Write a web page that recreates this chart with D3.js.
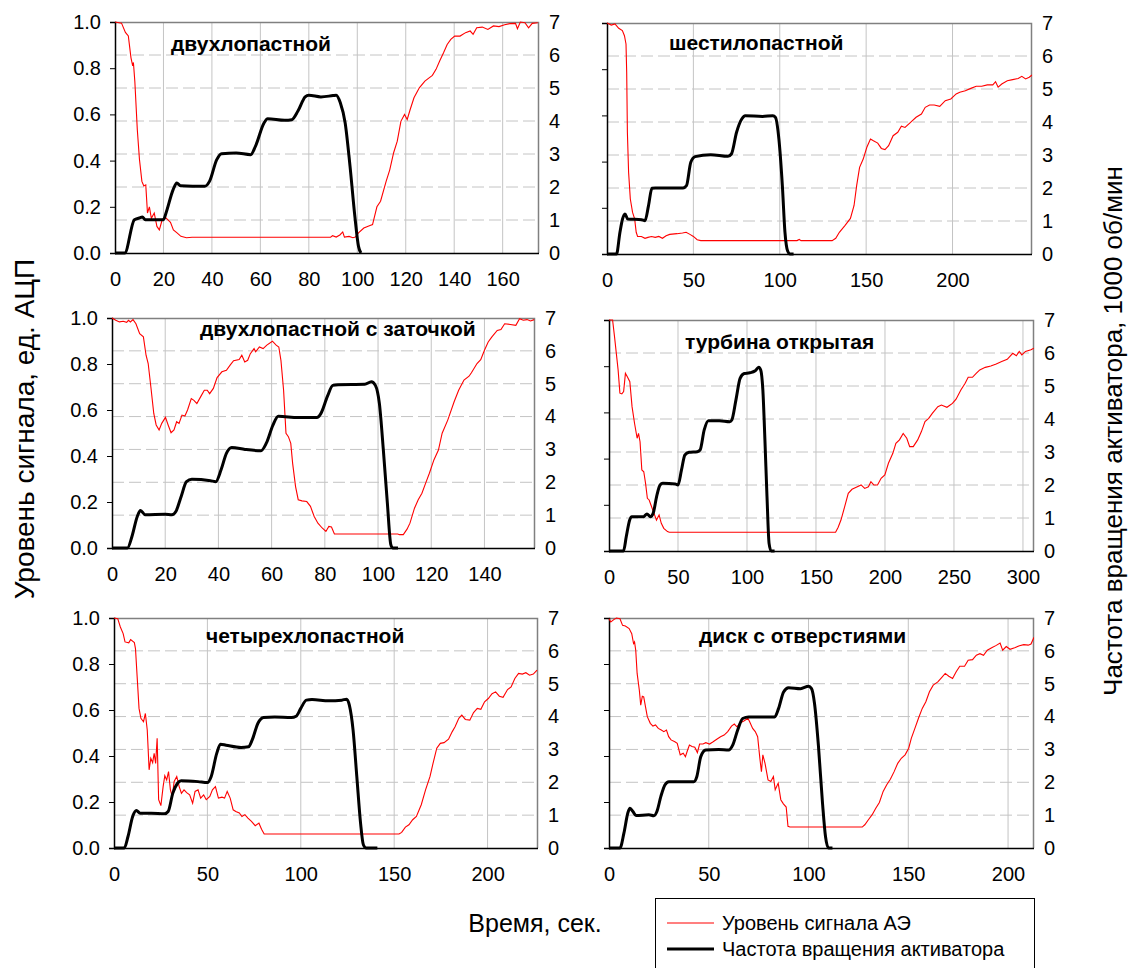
<!DOCTYPE html>
<html>
<head>
<meta charset="utf-8">
<script src="https://cdn.jsdelivr.net/npm/d3@7"></script>
<style>
  body { margin: 0; background: #fff; }
  svg { font-family: "Liberation Sans", Arial, sans-serif; }
</style>
</head>
<body>
<svg id="chart" width="1131" height="968"></svg>
<script>
// названия панелей и оси времени
var titles = ["двухлопастной", "шестилопастной", "двухлопастной с заточкой",
              "турбина открытая", "четырехлопастной", "диск с отверстиями"];
var xMax = [175, 246, 159, 308, 227, 213];
var xTicks = [
  [0, 20, 40, 60, 80, 100, 120, 140, 160],
  [0, 50, 100, 150, 200],
  [0, 20, 40, 60, 80, 100, 120, 140],
  [0, 50, 100, 150, 200, 250, 300],
  [0, 50, 100, 150, 200],
  [0, 50, 100, 150, 200]
];
var signalTicks = [0, 0.2, 0.4, 0.6, 0.8, 1.0];
var speedTicks = [0, 1, 2, 3, 4, 5, 6, 7];

// уровень сигнала АЭ, [сек, ед. АЦП]
var signal1 = [[0,1.0],[2.7,0.995],[4.3,0.955],[5.5,0.94],[6.6,0.845],[7.3,0.81],[7.6,0.825],[8.2,0.74],[9.2,0.535],[10.1,0.405],[11.1,0.31],[11.9,0.29],[12.7,0.295],[13.4,0.173],[14.2,0.2],[15,0.15],[16.2,0.173],[17.3,0.115],[18.3,0.1],[19.5,0.145],[21,0.152],[22.9,0.133],[24.1,0.1],[25.6,0.087],[27.2,0.072],[29.5,0.066],[31.8,0.068],[89,0.068],[89.8,0.075],[91.3,0.069],[92.8,0.078],[94,0.091],[94.7,0.069],[96.6,0.072],[98.2,0.066],[99.2,0.069],[100.5,0.087],[102.7,0.108],[105,0.118],[106.3,0.123],[108.1,0.2],[109.6,0.224],[111.9,0.31],[113.4,0.36],[115,0.434],[116.5,0.484],[118,0.57],[119.5,0.6],[120.6,0.578],[121.8,0.62],[123.4,0.672],[125.6,0.715],[127.9,0.744],[129.5,0.757],[131,0.769],[132.5,0.795],[134,0.831],[135.6,0.867],[137.1,0.903],[138.6,0.925],[140.2,0.939],[142.4,0.939],[144.7,0.954],[146.6,0.961],[147.8,0.947],[149.3,0.975],[151.6,0.978],[153.9,0.968],[156.2,0.983],[158.5,0.98],[160.8,0.988],[163,0.993],[165.3,0.994],[166.1,0.971],[167.3,1.0],[169.2,0.997],[170.7,0.975],[172.2,0.994],[174.5,0.997]];
var signal2 = [[0,1.0],[2.5,0.991],[4.6,0.996],[6.8,0.977],[8.9,0.967],[10.1,0.945],[11,0.909],[11.4,0.786],[11.8,0.527],[12.5,0.354],[13.5,0.238],[14.8,0.18],[16,0.152],[16.9,0.094],[17.7,0.076],[19.9,0.076],[22,0.068],[23.7,0.072],[25.8,0.076],[27.9,0.072],[30,0.076],[32.1,0.068],[34.2,0.079],[36.3,0.085],[40.5,0.088],[43.7,0.091],[45.8,0.094],[48,0.085],[50,0.076],[52.2,0.062],[54.3,0.058],[110,0.058],[111.3,0.063],[112.3,0.058],[130.3,0.058],[132.4,0.068],[134.5,0.094],[137.7,0.123],[140.9,0.154],[143,0.21],[144.5,0.296],[146.2,0.375],[148.3,0.411],[150.4,0.462],[152.5,0.498],[154.2,0.49],[156.7,0.48],[158.8,0.457],[160.9,0.452],[163,0.469],[165.6,0.512],[168.3,0.527],[170.4,0.553],[172.5,0.548],[175.7,0.57],[178.9,0.592],[182,0.606],[184.2,0.635],[186.7,0.645],[189.4,0.645],[192.6,0.639],[195.8,0.664],[199,0.671],[202.1,0.693],[204.2,0.7],[207.4,0.707],[210.6,0.717],[213.7,0.726],[216.9,0.726],[220.1,0.732],[223.3,0.732],[224.9,0.746],[226.4,0.722],[228.5,0.736],[231.7,0.75],[234.8,0.755],[238,0.76],[240.1,0.769],[242.3,0.758],[244.4,0.765],[246,0.775]];
var signal3 = [[0,1.0],[1.4,0.99],[2.8,0.983],[4.2,0.986],[5.5,0.981],[6.2,0.99],[6.9,0.983],[7.9,0.993],[9,0.975],[10.4,0.932],[11.8,0.918],[12.8,0.838],[13.6,0.802],[14.6,0.701],[15.7,0.585],[16.6,0.535],[17.7,0.513],[18.7,0.542],[20.1,0.568],[21.1,0.535],[22.2,0.501],[23.3,0.513],[24.3,0.549],[25.2,0.542],[26.3,0.578],[27.4,0.574],[28.4,0.6],[29.8,0.65],[30.8,0.642],[31.9,0.628],[33.3,0.657],[34.7,0.686],[35.8,0.686],[36.7,0.671],[38.1,0.694],[39.5,0.741],[41.3,0.766],[43,0.773],[44.4,0.795],[45.7,0.814],[47.8,0.819],[48.8,0.838],[49.9,0.809],[51,0.816],[52,0.845],[53.4,0.867],[54,0.853],[55.4,0.874],[56.8,0.867],[58.2,0.882],[60.3,0.899],[61.7,0.882],[62.7,0.874],[63.5,0.816],[64.5,0.686],[65.4,0.499],[66.3,0.484],[67.2,0.455],[67.9,0.368],[69,0.267],[70,0.21],[71.4,0.205],[73.2,0.202],[74.6,0.181],[76,0.137],[77.4,0.108],[79,0.087],[80.4,0.072],[81.5,0.094],[82.5,0.091],[83.6,0.061],[107.4,0.061],[108.1,0.058],[109.5,0.058],[110.9,0.082],[112,0.108],[113.7,0.173],[115.1,0.21],[116.5,0.238],[117.9,0.282],[119.3,0.325],[121,0.383],[122.7,0.426],[124.1,0.499],[126.2,0.556],[128.6,0.636],[130.3,0.686],[132.3,0.73],[134.2,0.747],[135.1,0.762],[137.2,0.802],[138.6,0.819],[140,0.86],[141.4,0.896],[142.8,0.918],[144.8,0.946],[146.2,0.95],[147.6,0.975],[149.7,0.972],[151.8,0.968],[153.2,0.997],[154.6,0.99],[156,0.993],[157.3,0.987],[158.7,0.993]];
var signal4 = [[0,1.0],[2.6,1.0],[4,0.928],[5.3,0.856],[6.6,0.784],[7.9,0.683],[9.3,0.68],[10.6,0.69],[11.9,0.769],[13.2,0.755],[15.1,0.733],[16.7,0.625],[18.5,0.553],[20.4,0.488],[21.4,0.509],[22.5,0.473],[23.8,0.351],[25.2,0.343],[26.5,0.293],[27.8,0.228],[29.1,0.221],[30.4,0.199],[32.6,0.163],[34.4,0.134],[36.3,0.156],[37.9,0.12],[39.7,0.098],[42.4,0.084],[43.7,0.081],[164.2,0.081],[166,0.102],[168.1,0.134],[170.8,0.192],[173.4,0.25],[176.1,0.267],[179.2,0.276],[182.7,0.286],[185.3,0.271],[188,0.278],[189.8,0.3],[191.9,0.286],[194.6,0.286],[197.2,0.315],[199.9,0.329],[202.5,0.38],[205.7,0.423],[207.9,0.466],[210.5,0.481],[213.2,0.509],[215.8,0.488],[217.9,0.452],[220.5,0.452],[223.7,0.481],[226.4,0.517],[229,0.56],[231.7,0.574],[234.3,0.596],[238.3,0.625],[240.9,0.632],[244.9,0.622],[248.9,0.639],[251.5,0.657],[255,0.697],[258.1,0.726],[260.3,0.752],[263.4,0.752],[266.1,0.769],[268.7,0.784],[272.7,0.795],[276.7,0.801],[280.6,0.81],[284.6,0.82],[288.6,0.83],[292.6,0.856],[295.2,0.845],[297.3,0.864],[299.2,0.849],[301.8,0.864],[305.8,0.871],[307.9,0.878]];
var signal5 = [[0,1.0],[2,0.997],[3.4,0.961],[4.9,0.932],[5.9,0.896],[7.9,0.892],[8.9,0.906],[10.9,0.893],[11.5,0.867],[12.4,0.744],[13.4,0.607],[14.4,0.564],[15.8,0.549],[16.8,0.585],[17.8,0.513],[18.8,0.34],[19.7,0.39],[20.7,0.371],[21.5,0.412],[22.3,0.368],[23.1,0.477],[23.9,0.21],[25.1,0.184],[26.3,0.267],[27.2,0.314],[28.2,0.296],[29.2,0.332],[30.2,0.253],[31.2,0.224],[32.2,0.289],[33.6,0.311],[34.9,0.267],[36.1,0.238],[37.5,0.253],[38.9,0.241],[40.5,0.231],[42.1,0.195],[43.4,0.246],[45,0.253],[46.4,0.217],[48,0.231],[49.4,0.21],[51.3,0.224],[52.7,0.253],[54.3,0.267],[55.9,0.217],[57.8,0.221],[59.2,0.217],[60.6,0.246],[62.2,0.217],[63.8,0.166],[65.2,0.159],[67.1,0.152],[68.5,0.137],[70.1,0.145],[71.7,0.13],[73.6,0.116],[75.6,0.097],[77.6,0.108],[79,0.082],[80.4,0.061],[152.6,0.061],[154,0.068],[156,0.091],[157.9,0.101],[159.9,0.123],[161.9,0.137],[164.5,0.188],[166.8,0.253],[169.2,0.311],[170.8,0.368],[172.8,0.434],[174.7,0.455],[176.7,0.458],[179.1,0.473],[181.1,0.506],[182.6,0.527],[184.6,0.564],[186.2,0.578],[188.1,0.559],[190.5,0.556],[192.5,0.589],[194.5,0.607],[196.4,0.603],[198.4,0.636],[200.4,0.65],[202.4,0.671],[204.3,0.679],[206.3,0.66],[208.3,0.655],[210.7,0.689],[212.6,0.7],[214.6,0.737],[216.6,0.759],[218.6,0.756],[220.5,0.762],[222.5,0.751],[224.5,0.756],[226.5,0.773]];
var signal6 = [[0,0.997],[0.9,0.983],[2.4,0.993],[3.7,1.0],[5.5,0.997],[6.8,0.968],[8.2,0.965],[10.1,0.954],[11.4,0.932],[12.3,0.889],[12.8,0.896],[13.4,0.86],[14.1,0.759],[15.2,0.686],[15.9,0.621],[16.7,0.66],[17.4,0.657],[18.3,0.614],[19.2,0.571],[20.7,0.542],[22,0.53],[23.3,0.535],[24.7,0.52],[26.2,0.513],[27.5,0.506],[28.8,0.513],[29.9,0.484],[31.1,0.47],[33,0.462],[34.2,0.455],[35.7,0.405],[37.2,0.412],[38.3,0.397],[39.4,0.426],[40.3,0.448],[41.6,0.441],[43,0.438],[44.3,0.415],[45.4,0.452],[47.1,0.452],[48.5,0.458],[50.4,0.452],[52.2,0.462],[54,0.473],[55.9,0.484],[57.7,0.491],[59.5,0.506],[61.4,0.53],[62.8,0.539],[64.1,0.527],[65.9,0.545],[67.8,0.553],[69.6,0.564],[70.5,0.549],[72,0.52],[73.3,0.506],[74.5,0.484],[75.6,0.39],[76.4,0.332],[77.1,0.405],[78.2,0.368],[79.7,0.296],[81.1,0.289],[82.4,0.311],[83.3,0.253],[84.8,0.282],[86.1,0.21],[87.4,0.192],[88.8,0.178],[89.7,0.094],[90.7,0.091],[126.9,0.091],[128.2,0.101],[130,0.123],[131.9,0.145],[133.7,0.173],[135.5,0.198],[137.4,0.246],[139.2,0.275],[141,0.299],[142.9,0.332],[144.7,0.368],[146.5,0.39],[148.4,0.405],[150.2,0.434],[151.5,0.477],[153.3,0.52],[155.1,0.564],[157,0.607],[158.8,0.636],[160.6,0.679],[162.5,0.708],[164.8,0.722],[166.7,0.741],[168.5,0.759],[170.3,0.747],[172.2,0.737],[174,0.766],[175.8,0.79],[178.2,0.79],[180,0.816],[182.2,0.819],[184.1,0.838],[185.9,0.845],[187.7,0.838],[189.6,0.86],[191.8,0.871],[194.1,0.881],[196,0.891],[197.3,0.86],[199.1,0.876],[201,0.864],[203.3,0.871],[205.7,0.879],[207.9,0.884],[210.1,0.882],[211.5,0.887],[213,0.916]];

// частота вращения активатора, [сек, 1000 об/мин]
var speed1 = [[0,0],[4,0],[8,1.01],[10,1.06],[11.3,1.09],[12.5,1.01],[20,1.01],[21,1.2],[24,1.92],[25.5,2.12],[27,2.04],[37,2.02],[39,2.17],[42,2.83],[44,3.01],[50,3.03],[56,2.98],[58,3.24],[61.5,3.94],[63,4.07],[70,4.02],[73,4.04],[75.5,4.3],[78.5,4.73],[80,4.78],[85,4.73],[90,4.77],[91.3,4.78],[93,4.55],[95,3.94],[97,2.63],[99,1.11],[100.5,0.2],[101.5,0]];
var speed2 = [[0,0],[5.5,0],[7.5,0.66],[9,1.06],[10.4,1.21],[12,1.06],[20,1.04],[22,1.01],[24,1.46],[26,1.99],[28,2.0],[40,2.0],[44,2.0],[46,2.07],[48.5,2.78],[51,2.95],[60,3.01],[70,2.96],[72,3.03],[75,3.69],[78,4.09],[80,4.19],[90,4.17],[96,4.19],[97.5,4.14],[99.5,3.48],[101.5,2.07],[103,0.66],[104.5,0.1],[106,0],[108,0]];
var speed3 = [[0,0],[5.8,0],[7.5,0.35],[9.5,0.96],[10.7,1.14],[12.5,1.01],[20,1.03],[22.5,1.01],[24,1.11],[26,1.57],[28,2.02],[30,2.09],[37,2.05],[39,2.02],[41,2.38],[43,2.88],[45,3.06],[50,3.0],[56,2.96],[58,3.19],[60.5,3.74],[62.5,4.01],[70,3.97],[77,3.97],[78.5,4.09],[81,4.62],[83,4.95],[85,4.97],[95,4.98],[97.5,5.06],[99,4.95],[100.5,4.4],[102,2.98],[103.5,1.37],[104.8,0.1],[105.5,0],[107.5,0]];
var speed4 = [[0,0],[10.5,0],[12.5,0.43],[15,0.94],[16.5,1.04],[25,1.04],[27.5,1.12],[30,1.04],[32,1.14],[34.5,1.65],[37,2.0],[39,2.05],[48,2.03],[50,2.0],[52.5,2.45],[55,2.91],[58,2.99],[64,3.01],[66,3.06],[69,3.67],[72,3.95],[80,3.95],[87.5,3.92],[89,3.97],[92,4.58],[95,5.23],[98,5.38],[102,5.4],[106,5.46],[108.5,5.57],[110,5.48],[111.5,4.88],[113,3.36],[114.5,1.65],[116,0.23],[117.5,0],[120,0]];
var speed5 = [[0,0],[5.5,0],[7.5,0.35],[10,0.96],[12,1.14],[14,1.06],[20,1.06],[27,1.04],[29,1.11],[31.5,1.67],[34,1.97],[36,2.05],[45,2.02],[50,1.99],[52,2.17],[55,2.88],[57,3.16],[60,3.13],[68,3.06],[72,3.08],[74,3.29],[77,3.79],[80,3.97],[86,3.99],[95,3.97],[97.5,4.01],[100,4.25],[103,4.5],[106,4.52],[115,4.48],[122,4.5],[124.5,4.53],[126,4.35],[128,3.59],[130,2.17],[132,0.76],[133.5,0.1],[135,0],[141,0]];
var speed6 = [[0,0],[5.5,0],[7.5,0.46],[9.5,1.08],[10.5,1.21],[12,1.11],[13.5,0.99],[20,1.01],[22.5,0.98],[24,1.11],[26,1.57],[28,1.92],[30,2.02],[40,2.02],[42.5,2.02],[44,2.17],[46,2.78],[48.5,2.98],[55,3.0],[60,2.98],[62,3.13],[64.5,3.59],[67,3.94],[70,3.99],[80,3.99],[83,3.99],[85,4.25],[87.5,4.75],[90,4.88],[96,4.85],[100,4.92],[101.5,4.85],[103,4.4],[105,3.08],[107,1.37],[108.5,0.35],[110,0],[112,0]];

var signals = [signal1, signal2, signal3, signal4, signal5, signal6];
var speeds = [speed1, speed2, speed3, speed4, speed5, speed6];

// рамки панелей на странице и положение подписей
var boxes = [
  {left: 115, right: 539, top: 22, bottom: 253},
  {left: 607, right: 1032, top: 23, bottom: 254},
  {left: 112, right: 535, top: 318, bottom: 548},
  {left: 609, right: 1034, top: 320, bottom: 551},
  {left: 114, right: 538, top: 618, bottom: 848},
  {left: 609, right: 1034, top: 618, bottom: 848}
];
var titlePos = [[56, 22], [62, 20], [88, 11], [76, 22], [92, 18], [90, 18]];

var svg = d3.select("#chart");

boxes.forEach(function(b, i) {
	var w = b.right - b.left,
	    h = b.bottom - b.top,
	    leftColumn = (i % 2 === 0);

	var g = svg.append("g")
		.attr("transform", "translate(" + b.left + "," + b.top + ")");

	var x = d3.scaleLinear().domain([0, xMax[i]]).range([0, w]);
	var yS = d3.scaleLinear().domain([0, 1]).range([h, 0]);
	var yF = d3.scaleLinear().domain([0, 7]).range([h, 0]);

	// вертикальная сетка
	g.append("g")
		.selectAll("line")
		.data(xTicks[i].filter(function(d) { return d > 0; }))
		.enter().append("line")
		.attr("x1", function(d) { return x(d); })
		.attr("x2", function(d) { return x(d); })
		.attr("y1", 0).attr("y2", h)
		.attr("stroke", "#c4c4c4")
		.attr("stroke-width", 1);

	// горизонтальная сетка, штрих
	g.append("g")
		.selectAll("line")
		.data(speedTicks.filter(function(d) { return d > 0 && d < 7; }))
		.enter().append("line")
		.attr("x1", 0).attr("x2", w)
		.attr("y1", function(d) { return yF(d); })
		.attr("y2", function(d) { return yF(d); })
		.attr("stroke", "#c4c4c4")
		.attr("stroke-width", 1)
		.attr("stroke-dasharray", "12,5");

	// верх и правая сторона рамки
	g.append("path")
		.attr("d", "M0,0.5H" + (w - 0.5) + "V" + h)
		.attr("fill", "none")
		.attr("stroke", "#808080")
		.attr("stroke-width", 1.5);

	var clipId = "clip" + i;
	g.append("clipPath").attr("id", clipId)
		.append("rect")
		.attr("x", -3).attr("y", -2)
		.attr("width", w + 3).attr("height", h + 4);

	var lineSignal = d3.line()
		.x(function(d) { return x(d[0]); })
		.y(function(d) { return yS(d[1]); });

	var lineSpeed = d3.line()
		.curve(d3.curveMonotoneX)
		.x(function(d) { return x(d[0]); })
		.y(function(d) { return yF(d[1]); });

	// оси
	var xAxis = d3.axisBottom(x).tickValues(xTicks[i]).tickSize(0).tickPadding(19)
		.tickFormat(d3.format("d"));
	var gx = g.append("g")
		.attr("transform", "translate(0," + h + ")")
		.call(xAxis);

	// у правых панелей левая шкала без подписей
	var gl = g.append("g").call(d3.axisLeft(yS).tickValues(signalTicks)
		.tickSize(5).tickPadding(9)
		.tickFormat(leftColumn ? d3.format(".1f") : function() { return ""; }));

	var gr = g.append("g")
		.attr("transform", "translate(" + w + ",0)")
		.call(d3.axisRight(yF).tickValues(speedTicks).tickSize(0).tickPadding(10)
			.tickFormat(d3.format("d")));
	gr.select(".domain").remove();

	[gx, gl, gr].forEach(function(a) {
		a.selectAll("text")
			.style("font-size", "20px")
			.style("font-family", "'Liberation Sans', Arial, sans-serif")
			.attr("fill", "#000");
		a.selectAll(".tick line").attr("stroke", "#000");
		a.select(".domain").attr("stroke", "#000").attr("stroke-width", 1.5);
	});
	gx.select(".domain").attr("d", "M0,0.5H" + w);

	g.append("path")
		.attr("clip-path", "url(#" + clipId + ")")
		.attr("d", lineSignal(signals[i]))
		.attr("fill", "none")
		.attr("stroke", "#ff0000")
		.attr("stroke-width", 1.1);

	g.append("path")
		.attr("clip-path", "url(#" + clipId + ")")
		.attr("d", lineSpeed(speeds[i]))
		.attr("fill", "none")
		.attr("stroke", "#000")
		.attr("stroke-width", 3)
		.attr("stroke-linejoin", "round");

	g.append("text")
		.attr("x", titlePos[i][0])
		.attr("y", titlePos[i][1])
		.attr("dy", "0.35em")
		.style("font-size", "21px")
		.style("font-weight", "bold")
		.text(titles[i]);
});

// подписи осей
svg.append("text")
	.attr("transform", "translate(34,429) rotate(-90)")
	.style("text-anchor", "middle")
	.style("font-size", "28px")
	.text("Уровень сигнала, ед. АЦП");

svg.append("text")
	.attr("transform", "translate(1122,431) rotate(-90)")
	.style("text-anchor", "middle")
	.style("font-size", "26px")
	.text("Частота вращения активатора, 1000 об/мин");

svg.append("text")
	.attr("x", 535).attr("y", 923)
	.attr("dy", "0.35em")
	.style("text-anchor", "middle")
	.style("font-size", "25px")
	.text("Время, сек.");

// легенда
var legendItems = [
	{label: "Уровень сигнала АЭ", color: "#ff0000", width: 1.2},
	{label: "Частота вращения активатора", color: "#000", width: 3}
];

var legend = svg.append("g").attr("transform", "translate(655,898)");
legend.append("rect")
	.attr("x", 0.5).attr("y", 0.5)
	.attr("width", 379).attr("height", 90)
	.attr("fill", "#fff")
	.attr("stroke", "#000");

var li = legend.selectAll(".item")
	.data(legendItems)
	.enter().append("g")
	.attr("transform", function(d, k) { return "translate(0," + (25 + k * 26) + ")"; });
li.append("line")
	.attr("x1", 12).attr("x2", 59)
	.attr("stroke", function(d) { return d.color; })
	.attr("stroke-width", function(d) { return d.width; });
li.append("text")
	.attr("x", 67)
	.attr("dy", "0.35em")
	.style("font-size", "20px")
	.text(function(d) { return d.label; });
</script>
</body>
</html>
